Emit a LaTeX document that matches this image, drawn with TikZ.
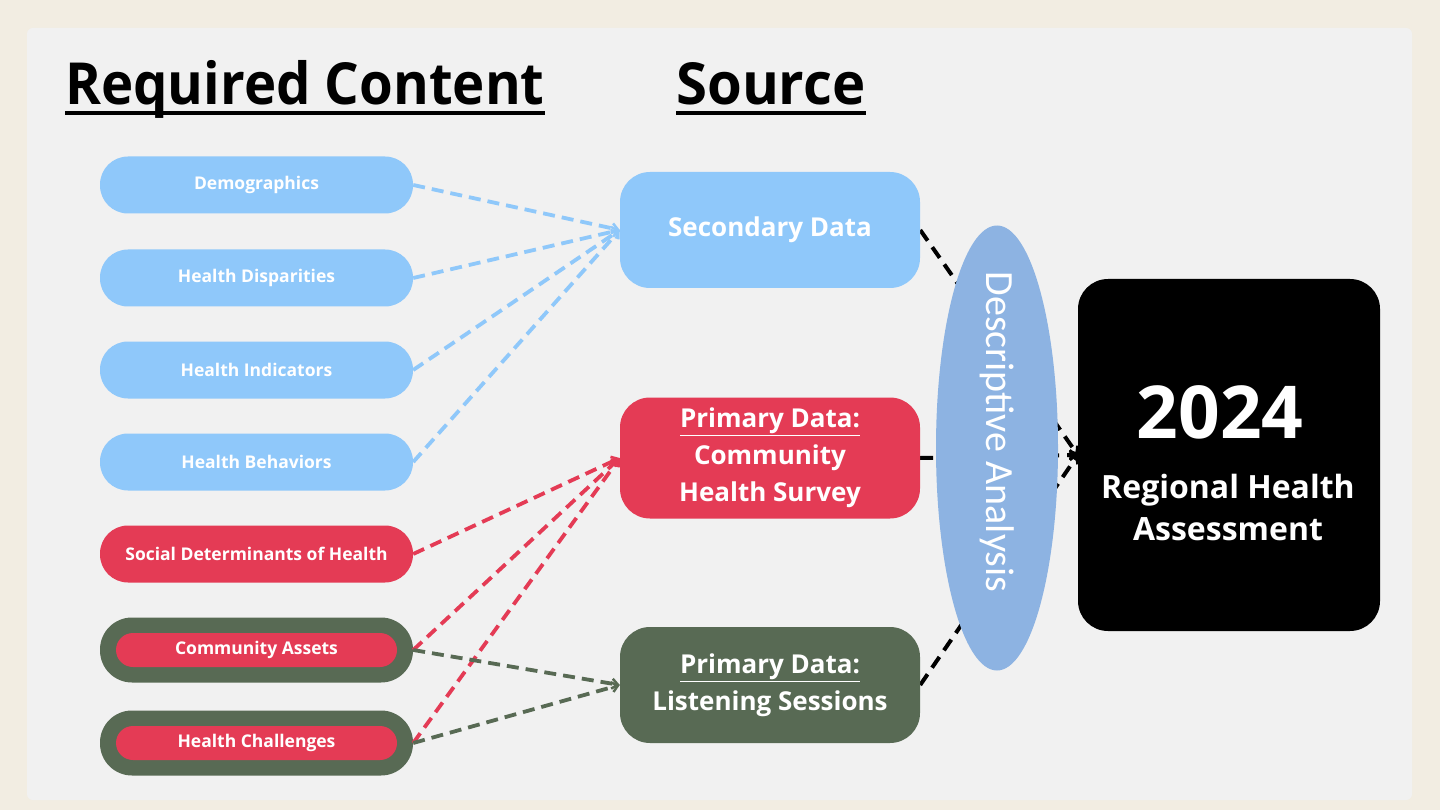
\documentclass[tikz,border=0pt]{standalone}
\usepackage{fontspec}
\setmainfont{Open Sans}
\newfontfamily\carl{Carlito}
\usetikzlibrary{arrows.meta,shapes.geometric}
\definecolor{bgc}{HTML}{F2EDE2}
\definecolor{panel}{HTML}{F1F1F1}
\definecolor{lblue}{HTML}{8FC8FA}
\definecolor{cred}{HTML}{E43B55}
\definecolor{cgreen}{HTML}{586A54}
\definecolor{ellc}{HTML}{8DB3E2}
\pgfdeclarelayer{bg}
\pgfdeclarelayer{mid}
\pgfsetlayers{bg,mid,main}
\tikzset{
  lbox/.style={rounded corners=28, minimum width=313, minimum height=57, inner sep=0, text=white, font=\bfseries\fontsize{17.5}{20}\selectfont},
  inbox/.style={rounded corners=17, minimum width=281, minimum height=34, inner sep=0, text=white, font=\bfseries\fontsize{17.5}{20}\selectfont, fill=cred},
  mbox/.style={rounded corners=30, minimum width=300, inner sep=0, text=white, align=center, font=\bfseries\fontsize{26}{37}\selectfont},
  cline/.style={line width=3.8, dash pattern=on 12 off 7, -{Straight Barb[length=6,width=10,line width=2.5]}},
  bline/.style={line width=4, black, dash pattern=on 13 off 8, -{Straight Barb[length=6,width=10,line width=2.5]}},
  ttl/.style={anchor=base west, inner sep=0, font=\bfseries\fontsize{58}{60}\selectfont}
}
\begin{document}
\begin{tikzpicture}[x=1pt,y=-1pt]
\begin{pgfonlayer}{bg}
\fill[bgc] (0,0) rectangle (1440,810);
\fill[panel, rounded corners=6] (27,28) rectangle (1412,800);
\end{pgfonlayer}
\useasboundingbox (0,0) rectangle (1440,810);

% titles
\node[ttl] (t1) at (65,105) {\scalebox{0.94}[1]{Required Content}};
\node[ttl] (t2) at (676,105) {\scalebox{0.97}[1]{Source}};
\draw[line width=4] ([yshift=-8pt]t1.base west) -- ([yshift=-8pt]t1.base east);
\draw[line width=4] ([yshift=-8pt]t2.base west) -- ([yshift=-8pt]t2.base east);

% left boxes
\node[lbox, fill=lblue] (demo) at (256.5,185) {Demographics};
\node[lbox, fill=lblue] (disp) at (256.5,278) {Health Disparities};
\node[lbox, fill=lblue] (ind) at (256.5,370) {Health Indicators};
\node[lbox, fill=lblue] (beh) at (256.5,462) {Health Behaviors};
\node[lbox, fill=cred] (sdoh) at (256.5,554) {Social Determinants of Health};
\node[lbox, fill=cgreen, minimum height=65, rounded corners=32] (ca) at (256.5,650) {};
\node[inbox] (caI) at (ca.center) {Community Assets};
\node[lbox, fill=cgreen, minimum height=65, rounded corners=32] (hc) at (256.5,743) {};
\node[inbox] (hcI) at (hc.center) {Health Challenges};

% middle boxes
\node[mbox, fill=lblue, minimum height=116] (sec) at (770,230) {\raisebox{-3pt}{Secondary Data}};
\node[mbox, fill=cred, minimum height=121] (surv) at (770,458) {\underline{Primary Data:}\\Community\\Health Survey};
\node[mbox, fill=cgreen, minimum height=116] (lis) at (770,685) {\underline{Primary Data:}\\Listening Sessions};

% ellipse and result
\node[ellipse, fill=ellc, minimum width=122, minimum height=445, inner sep=0] (da) at (997,448) {};
\node[rotate=-90, text=white, font=\carl\fontsize{40}{44}\selectfont, inner sep=0] (dat) at (997,432) {Descriptive Analysis};
\node[fill=black, rounded corners=30, minimum width=302, minimum height=352, inner sep=0] (ra) at (1229,455) {};
\node[text=white, font=\bfseries\fontsize{73}{76}\selectfont, inner sep=0] (yr) at (1220,412) {2024};
\node[text=white, align=center, font=\bfseries\fontsize{32}{42}\selectfont, inner sep=0] (rha) at (1228,507) {Regional Health\\Assessment};

% colored connectors
\draw[cline, lblue] (demo.east) -- (sec.west);
\draw[cline, lblue] (disp.east) -- (sec.west);
\draw[cline, lblue] (ind.east) -- (sec.west);
\draw[cline, lblue] (beh.east) -- (sec.west);
\draw[cline, cred] (sdoh.east) -- (surv.west);
\draw[cline, cred] (ca.east) -- (surv.west);
\draw[cline, cred] (hc.east) -- (surv.west);
\draw[cline, cgreen] (ca.east) -- (lis.west);
\draw[cline, cgreen] (hc.east) -- (lis.west);

% black connectors behind ellipse
\begin{pgfonlayer}{mid}
\draw[bline] (sec.east) -- (ra.west);
\draw[bline] (surv.east) -- (ra.west);
\draw[bline] (lis.east) -- (ra.west);
\end{pgfonlayer}
\end{tikzpicture}
\end{document}
